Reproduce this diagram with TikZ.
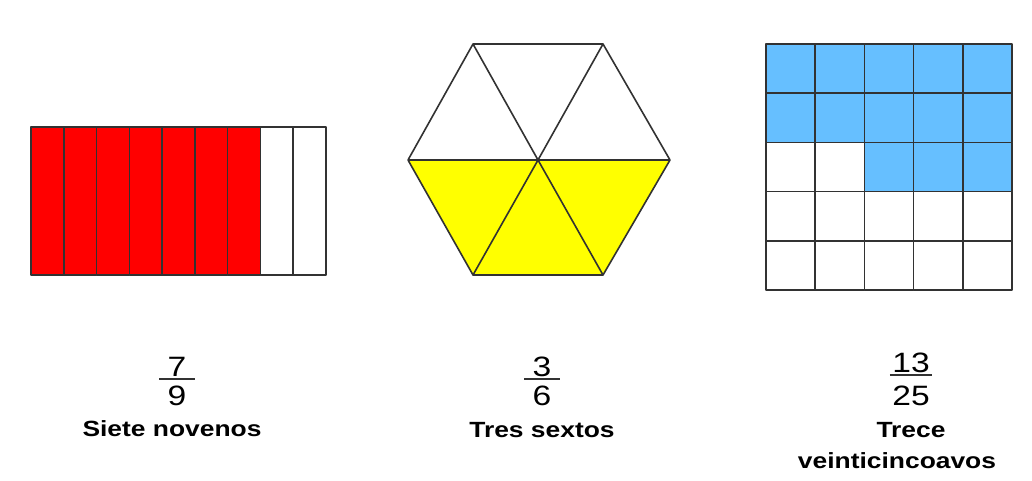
\documentclass[tikz,border=0pt]{standalone}
\usepackage{fontspec}
\setmainfont{Liberation Sans}
\newfontfamily\widefont[FakeStretch=1.2]{Liberation Sans}
\definecolor{fracred}{RGB}{255,0,0}
\definecolor{fracyellow}{RGB}{255,255,0}
\definecolor{fracblue}{RGB}{102,191,255}
\definecolor{edgegray}{RGB}{50,50,50}

\begin{document}
\begin{tikzpicture}[x=1pt, y=-1pt,
    part/.style={draw=edgegray, line width=1.6pt, line join=round},
    num/.style={inner sep=0pt, anchor=base, font=\widefont\fontsize{28}{30}\selectfont},
    bar/.style={line width=2pt, edgegray},
    fracname/.style={inner sep=0pt, anchor=base, font=\widefont\bfseries\fontsize{22}{26}\selectfont}]

  \useasboundingbox[fill=white] (0,0) rectangle (1032,480);

  % rectangle in nine strips
  \fill[fracred] (31,127) rectangle (31+7*32.78,275);
  \foreach \i in {0,...,8}
    \draw[part] (31+\i*32.78,127) rectangle ++(32.78,148);

  % hexagon in six triangles
  \coordinate (c) at (538,160);
  \coordinate (h1) at (473,44);
  \coordinate (h2) at (603,44);
  \coordinate (h3) at (670,160);
  \coordinate (h4) at (603,275);
  \coordinate (h5) at (473,275);
  \coordinate (h6) at (408,160);
  \fill[fracyellow] (h6) -- (h3) -- (h4) -- (h5) -- cycle;
  \draw[part] (h1) -- (h2) -- (h3) -- (h4) -- (h5) -- (h6) -- cycle;
  \foreach \v in {1,...,6}
    \draw[part] (c) -- (h\v);

  % square in twenty-five cells
  \fill[fracblue] (766,44) rectangle (1012,142.4);
  \fill[fracblue] (766+2*49.2,142.4) rectangle (1012,191.6);
  \foreach \r in {0,...,4}
    \foreach \k in {0,...,4}
      \draw[part] (766+\k*49.2,44+\r*49.2) rectangle ++(49.2,49.2);

  % fractions and their names
  \node[num, minimum width=35pt] (n7) at (177,376) {7};
  \node[num] (d9) at (177,405) {9};
  \node[fracname] (l7) at (172,436) {Siete novenos};
  \draw[bar] ([yshift=-3pt]n7.south west) -- ([yshift=-3pt]n7.south east);

  \node[num, minimum width=35pt] (n3) at (542,376) {3};
  \node[num] (d6) at (542,405) {6};
  \node[fracname] (l3) at (542,437) {Tres sextos};
  \draw[bar] ([yshift=-3pt]n3.south west) -- ([yshift=-3pt]n3.south east);

  \node[num, minimum width=42pt] (n13) at (911,372) {13};
  \node[num] (d25) at (911,405) {25};
  \node[fracname] (l13a) at (911,437) {Trece};
  \node[fracname] (l13b) at (897,468) {veinticincoavos};
  \draw[bar] ([yshift=-3pt]n13.south west) -- ([yshift=-3pt]n13.south east);
\end{tikzpicture}
\end{document}
